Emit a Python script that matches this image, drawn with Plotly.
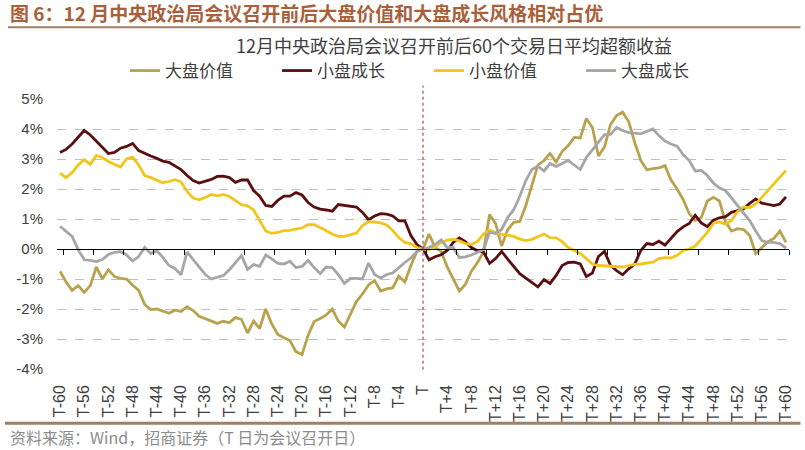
import plotly.graph_objects as go

days = list(range(-60, 61))

# 大盘价值
large_value = [
    -0.74, -1.10, -1.38, -1.22, -1.45, -1.22, -0.60, -1.00, -0.69, -0.92,
    -0.98, -1.00, -1.20, -1.38, -1.85, -2.02, -2.00, -2.08, -2.14, -2.04,
    -2.08, -1.92, -2.05, -2.24, -2.32, -2.38, -2.48, -2.41, -2.46, -2.28,
    -2.35, -2.80, -2.40, -2.65, -2.00, -2.50, -2.85, -2.96, -3.05, -3.42,
    -3.52, -2.88, -2.42, -2.32, -2.20, -2.00, -2.40, -2.60, -2.15, -1.75,
    -1.50, -1.20, -1.05, -1.40, -1.33, -1.30, -0.90, -1.10, -0.55, -0.08,
    0.00,
    0.50, 0.05, -0.08, -0.60, -1.00, -1.40, -1.18, -0.74, -0.45, -0.10,
    1.15, 0.85, 0.10, 0.64, 0.89, 0.92, 1.45, 2.10, 2.80, 2.95,
    3.18, 2.90, 3.25, 3.45, 3.72, 3.70, 4.35, 4.05, 3.10, 3.40,
    4.15, 4.45, 4.56, 4.25, 3.55, 2.95, 2.64, 2.68, 2.70, 2.78,
    2.30, 2.00, 1.65, 1.18, 0.95, 1.05, 1.60, 1.72, 1.60, 0.90,
    0.60, 0.68, 0.65, 0.45, -0.15, 0.05, 0.24, 0.35, 0.60, 0.22,
]

# 小盘成长
small_growth = [
    3.22, 3.32, 3.50, 3.72, 3.95, 3.80, 3.60, 3.38, 3.18, 3.22,
    3.36, 3.42, 3.52, 3.28, 3.18, 3.10, 3.02, 2.93, 2.89, 2.78,
    2.65, 2.45, 2.28, 2.20, 2.25, 2.32, 2.42, 2.43, 2.38, 2.22,
    2.30, 2.30, 1.95, 1.76, 1.45, 1.42, 1.62, 1.76, 1.76, 1.88,
    1.80, 1.55, 1.40, 1.33, 1.30, 1.26, 1.48, 1.46, 1.43, 1.40,
    1.22, 0.98, 1.10, 1.18, 1.16, 1.10, 0.94, 0.94, 0.45, 0.15,
    0.00,
    -0.36, -0.26, -0.19, -0.05, 0.22, 0.37, 0.25, 0.05, -0.06, -0.10,
    -0.48, -0.32, -0.08, -0.34, -0.60, -0.82, -0.97, -1.12, -1.26, -1.02,
    -1.15, -0.88, -0.55, -0.45, -0.44, -0.50, -0.92, -0.80, -0.25, -0.08,
    -0.55, -0.72, -0.86, -0.66, -0.50, -0.05, 0.18, 0.15, 0.26, 0.13,
    0.35, 0.58, 0.74, 0.85, 1.12, 0.87, 0.74, 0.96, 1.04, 1.08,
    1.22, 1.27, 1.34, 1.52, 1.67, 1.53, 1.48, 1.45, 1.50, 1.74,
]

# 小盘价值
small_value = [
    2.53, 2.38, 2.55, 2.80, 2.98, 2.82, 3.12, 3.05, 2.92, 2.83,
    2.73, 3.00, 3.06, 2.80, 2.45, 2.38, 2.30, 2.21, 2.25, 2.31,
    2.24, 1.92, 1.70, 1.64, 1.72, 1.82, 1.77, 1.82, 1.75, 1.60,
    1.48, 1.44, 1.30, 0.95, 0.60, 0.52, 0.55, 0.61, 0.62, 0.66,
    0.70, 0.81, 0.81, 0.72, 0.60, 0.50, 0.42, 0.42, 0.48, 0.53,
    0.78, 0.91, 0.90, 0.87, 0.80, 0.62, 0.38, 0.22, 0.17, 0.05,
    0.00,
    -0.02, 0.08, 0.22, 0.30, 0.33, 0.27, 0.18, 0.15, 0.25, 0.50,
    0.63, 0.55, 0.49, 0.46, 0.42, 0.33, 0.28, 0.32, 0.42, 0.50,
    0.38, 0.37, 0.25, 0.05, -0.05, -0.15, -0.32, -0.50, -0.55, -0.56,
    -0.56, -0.58, -0.60, -0.55, -0.51, -0.50, -0.47, -0.44, -0.32, -0.29,
    -0.30, -0.21, -0.05, 0.00, 0.10, 0.32, 0.55, 0.85, 0.90, 0.83,
    0.95, 1.25, 1.40, 1.38, 1.50, 1.72, 1.95, 2.15, 2.40, 2.62,
]

# 大盘成长
large_growth = [
    0.76, 0.60, 0.42, -0.02, -0.36, -0.38, -0.42, -0.35, -0.18, -0.11,
    -0.09, -0.20, -0.40, -0.25, 0.05, -0.15, -0.06, -0.28, -0.55, -0.65,
    -0.86, -0.10, -0.35, -0.62, -0.85, -1.00, -0.95, -0.88, -0.69, -0.45,
    -0.22, -0.68, -0.52, -0.58, -0.20, -0.33, -0.48, -0.50, -0.41, -0.62,
    -0.58, -0.38, -0.62, -0.82, -0.60, -0.62, -0.85, -1.15, -0.98, -0.98,
    -1.00, -0.47, -0.85, -0.97, -0.85, -0.80, -0.62, -0.45, -0.30, -0.08,
    0.00,
    0.05, 0.15, 0.30, 0.05, 0.05, -0.28, -0.26, -0.20, -0.11, -0.02,
    0.56, 0.52, 0.65, 1.05, 1.31, 1.76, 2.28, 2.65, 2.76, 2.60,
    2.85, 2.75, 2.85, 2.95, 2.80, 2.65, 3.05, 3.30, 3.55, 3.81,
    3.82, 4.05, 3.95, 3.88, 3.86, 3.84, 3.92, 4.00, 3.78, 3.60,
    3.50, 3.43, 3.15, 2.95, 2.60, 2.62, 2.45, 2.20, 2.03, 1.95,
    1.70, 1.45, 1.22, 0.95, 0.60, 0.28, 0.22, 0.22, 0.18, 0.03,
]

tick_days = list(range(-60, 61, 4))
tick_labels = [
    "T-60", "T-56", "T-52", "T-48", "T-44", "T-40", "T-36", "T-32",
    "T-28", "T-24", "T-20", "T-16", "T-12", "T-8", "T-4", "T",
    "T+4", "T+8", "T+12", "T+16", "T+20", "T+24", "T+28", "T+32",
    "T+36", "T+40", "T+44", "T+48", "T+52", "T+56", "T+60",
]
y_ticks = [-4, -3, -2, -1, 0, 1, 2, 3, 4, 5]
y_labels = ["-4%", "-3%", "-2%", "-1%", "0%", "1%", "2%", "3%", "4%", "5%"]
# 轴线上的小刻度（每5个交易日）
minor_ticks = [-59.5 + 5 * k for k in range(25)]

series = [
    ("大盘价值", large_value, "#B8A24E"),
    ("小盘成长", small_growth, "#5A0E0E"),
    ("小盘价值", small_value, "#F2C51A"),
    ("大盘成长", large_growth, "#A6A6A6"),
]

W, H = 805, 450
ML, MR, MT, MB = 57, 15.5, 99.3, 80.7
PW = W - ML - MR
PH = H - MT - MB


def px(x):
    return (x - ML) / PW


def py(y):
    return (H - MB - y) / PH


cjk = "Noto Sans CJK SC"

fig = go.Figure()

for name, vals, color in series:
    fig.add_trace(go.Scatter(
        x=days, y=vals, mode="lines", name=name,
        line=dict(color=color, width=2.8),
    ))

# 零轴带刻度
fig.add_trace(go.Scatter(x=[None], y=[None], xaxis="x2", showlegend=False))

fig.update_layout(
    width=W, height=H,
    margin=dict(l=ML, r=MR, t=MT, b=MB, autoexpand=False),
    plot_bgcolor="white", paper_bgcolor="white",
    showlegend=True,
    legend=dict(
        orientation="h", xref="container", yref="container",
        x=125 / W, y=1 - 71 / H, xanchor="left", yanchor="middle",
        entrywidth=107, entrywidthmode="pixels",
        font=dict(family=cjk, size=17, color="#404040"),
        bgcolor="rgba(0,0,0,0)",
    ),
    xaxis=dict(
        range=[-60.5, 60.5], tickvals=tick_days, ticktext=tick_labels,
        tickangle=-90, showgrid=False, zeroline=False, showline=False,
        ticks="", ticklabelstandoff=12,
        tickfont=dict(family="Liberation Sans", size=16, color="#404040"),
    ),
    xaxis2=dict(
        range=[-60.5, 60.5], overlaying="x", anchor="free", position=4 / 9,
        side="bottom", showline=True, linecolor="black", linewidth=1.2,
        ticks="outside", ticklen=5, tickcolor="black", tickwidth=1,
        tickvals=minor_ticks, showticklabels=False, showgrid=False,
        zeroline=False,
    ),
    yaxis=dict(
        range=[-4, 5], tickvals=y_ticks, ticktext=y_labels,
        showgrid=True, gridcolor="#BFBFBF", griddash="dash", gridwidth=1,
        zeroline=False, showline=False, ticks="", ticklabelstandoff=13,
        tickfont=dict(family="Liberation Sans", size=15, color="#404040"),
    ),
    shapes=[
        # T日虚线
        dict(type="line", xref="x", yref="paper", x0=0, x1=0,
             y0=py(370), y1=py(86),
             line=dict(color="#8B2A20", width=1, dash="3px,3px")),
        # 标题下横线
        dict(type="line", xref="paper", yref="paper", x0=px(8), x1=px(801),
             y0=py(27.5), y1=py(27.5), line=dict(color="#A07D64", width=2)),
        # 底部横线
        dict(type="line", xref="paper", yref="paper", x0=px(5), x1=px(801),
             y0=py(423.5), y1=py(423.5), line=dict(color="#A07D64", width=3)),
    ],
    annotations=[
        dict(text="<b>图 6：12 月中央政治局会议召开前后大盘价值和大盘成长风格相对占优</b>",
             xref="paper", yref="paper", x=px(8), y=py(12.5),
             xanchor="left", yanchor="middle", showarrow=False,
             font=dict(family=cjk, size=19, color="#A9603A")),
        dict(text="12月中央政治局会议召开前后60个交易日平均超额收益",
             xref="paper", yref="paper", x=px(454), y=py(45),
             xanchor="center", yanchor="middle", showarrow=False,
             font=dict(family=cjk, size=18, color="#404040")),
        dict(text="资料来源：Wind，招商证券（T 日为会议召开日）",
             xref="paper", yref="paper", x=px(8), y=py(437.5),
             xanchor="left", yanchor="middle", showarrow=False,
             font=dict(family=cjk, size=16, color="#8C8C8C")),
    ],
)

fig.write_html("out.html", config={"displayModeBar": False},
               post_script="document.body.style.margin='0px';")
